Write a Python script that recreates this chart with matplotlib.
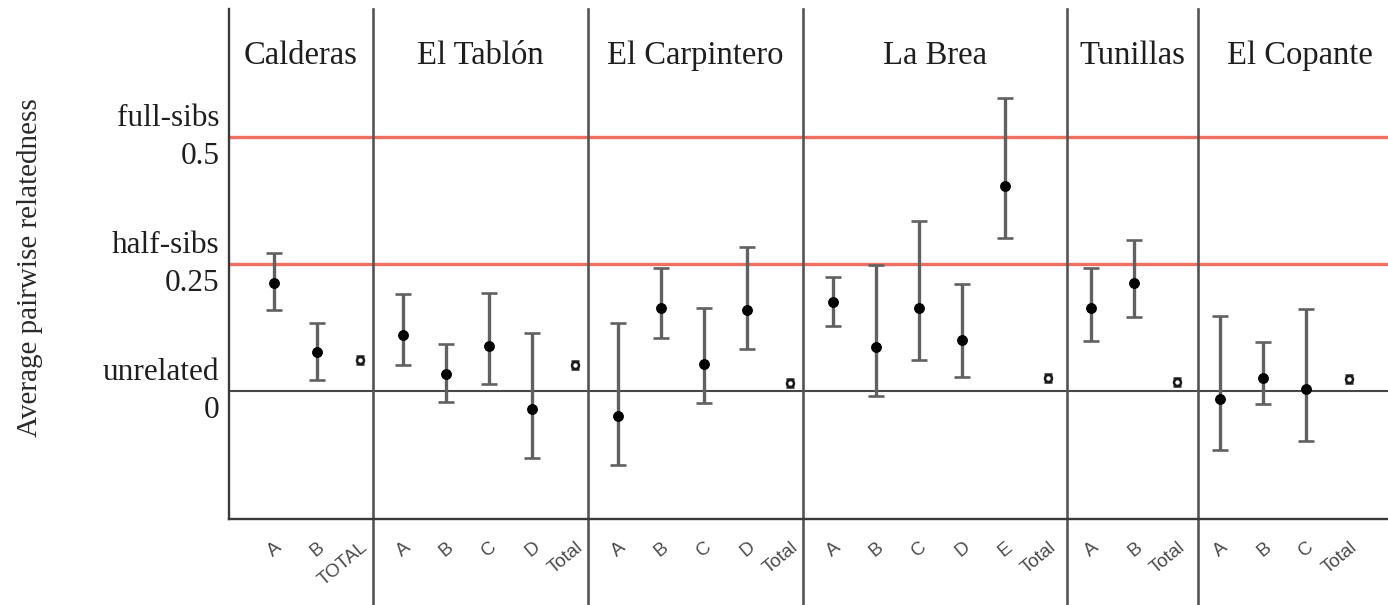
import matplotlib
matplotlib.use("Agg")
import matplotlib.pyplot as plt
import numpy as np

# Populations and the sampled groups within each
populations = ["Calderas", "El Tablón", "El Carpintero", "La Brea", "Tunillas", "El Copante"]

calderas_labels = ["A", "B", "TOTAL"]
calderas_mean = [0.213, 0.078, 0.062]
calderas_low = [0.160, 0.023, 0.054]
calderas_high = [0.273, 0.134, 0.070]

tablon_labels = ["A", "B", "C", "D", "Total"]
tablon_mean = [0.112, 0.034, 0.089, -0.034, 0.052]
tablon_low = [0.052, -0.021, 0.015, -0.130, 0.044]
tablon_high = [0.191, 0.093, 0.194, 0.116, 0.060]

carpintero_labels = ["A", "B", "C", "D", "Total"]
carpintero_mean = [-0.048, 0.165, 0.055, 0.160, 0.016]
carpintero_low = [-0.144, 0.105, -0.023, 0.084, 0.008]
carpintero_high = [0.134, 0.242, 0.164, 0.285, 0.024]

brea_labels = ["A", "B", "C", "D", "E", "Total"]
brea_mean = [0.176, 0.087, 0.165, 0.102, 0.404, 0.026]
brea_low = [0.128, -0.009, 0.061, 0.029, 0.301, 0.018]
brea_high = [0.225, 0.248, 0.336, 0.211, 0.577, 0.034]

tunillas_labels = ["A", "B", "Total"]
tunillas_mean = [0.164, 0.213, 0.019]
tunillas_low = [0.099, 0.147, 0.011]
tunillas_high = [0.243, 0.298, 0.027]

copante_labels = ["A", "B", "C", "Total"]
copante_mean = [-0.015, 0.026, 0.004, 0.024]
copante_low = [-0.115, -0.025, -0.097, 0.016]
copante_high = [0.148, 0.097, 0.162, 0.032]

# Reference relatedness levels
ref_levels = [0.0, 0.25, 0.5]
ref_names = ["unrelated", "half-sibs", "full-sibs"]

groups = [
    (calderas_labels, calderas_mean, calderas_low, calderas_high),
    (tablon_labels, tablon_mean, tablon_low, tablon_high),
    (carpintero_labels, carpintero_mean, carpintero_low, carpintero_high),
    (brea_labels, brea_mean, brea_low, brea_high),
    (tunillas_labels, tunillas_mean, tunillas_low, tunillas_high),
    (copante_labels, copante_mean, copante_low, copante_high),
]

# Space between the last group member and the panel separator
sep_gap = [0.29, 0.31, 0.29, 0.43, 0.49]

SERIF = ["Liberation Serif", "DejaVu Serif"]
SANS = ["Liberation Sans", "DejaVu Sans"]
TEXT = "#1e1e1e"

W, H = 1388, 605
fig = plt.figure(figsize=(W / 100, H / 100), dpi=100)
fig.patch.set_facecolor("white")
left_px, right_px, top_px, bot_px = 229.3, 1388, 9.3, 519.3
ax = fig.add_axes([left_px / W, (H - bot_px) / H, (right_px - left_px) / W, (bot_px - top_px) / H])
ax.set_xlim(-0.04, 26.9)
ax.set_ylim(-0.2514, 0.7518)

for s in ["top", "right"]:
    ax.spines[s].set_visible(False)
for s in ["left", "bottom"]:
    ax.spines[s].set_color("#3a3a3a")
    ax.spines[s].set_linewidth(1.7)

# Sibship reference lines and zero line
ax.axhline(0.5, color="#ef6f61", lw=2.4, zorder=1)
ax.axhline(0.25, color="#ef6f61", lw=2.4, zorder=1)
ax.axhline(0.0, color="#474747", lw=1.5, zorder=1)

xticks, xlabels = [], []
pos = 1
edges = [-0.04]
for gi, (labels, mean, low, high) in enumerate(groups):
    n = len(labels)
    xs = np.arange(pos, pos + n)
    mean = np.asarray(mean)
    low = np.asarray(low)
    high = np.asarray(high)
    yerr = np.vstack([mean - low, high - mean])
    # groups
    ax.errorbar(xs[:-1], mean[:-1], yerr=yerr[:, :-1], fmt="o", color="black",
                ms=6.8, ecolor="#616161", elinewidth=2.4, capsize=5.5, capthick=1.9,
                zorder=3)
    # population total
    ax.errorbar(xs[-1:], mean[-1:], yerr=yerr[:, -1:], fmt="o", mfc="white",
                mec="#1a1a1a", mew=1.8, ms=5, ecolor="#2a2a2a", elinewidth=1.6,
                capsize=3.2, capthick=1.8, zorder=3)
    xticks.extend(xs)
    xlabels.extend(labels)
    if gi < len(sep_gap):
        sep = xs[-1] + sep_gap[gi]
        ax.axvline(sep, ymin=-0.2, ymax=1.0, color="#555555", lw=1.9,
                   clip_on=False, zorder=2)
        edges.append(sep)
    else:
        edges.append(xs[-1] + 1.2)
    pos += n

for gi, name in enumerate(populations):
    cx = (edges[gi] + edges[gi + 1]) / 2
    ax.text(cx, 0.661, name, ha="center", va="center", fontsize=23.5,
            family=SERIF, color=TEXT)

ax.set_xticks(xticks)
ax.set_xticklabels(xlabels, rotation=40, ha="right", va="top",
                   rotation_mode="anchor", family=SANS, fontsize=13.5,
                   color="#4a4a4a")
ax.tick_params(axis="x", length=0, pad=14)

ax.set_yticks(ref_levels)
ax.set_yticklabels([f"{nm}\n{v:g}" for nm, v in zip(ref_names, ref_levels)],
                   family=SERIF, fontsize=22.5, color=TEXT,
                   linespacing=1.4, va="center", multialignment="right")
ax.tick_params(axis="y", length=0, pad=7)

fig.text(30 / W, 1 - 268 / H, "Average pairwise relatedness", rotation=90,
         ha="center", va="center", family=SERIF, fontsize=21, color="#2a2a2a")

fig.savefig("out.png", dpi=100, facecolor="white")
